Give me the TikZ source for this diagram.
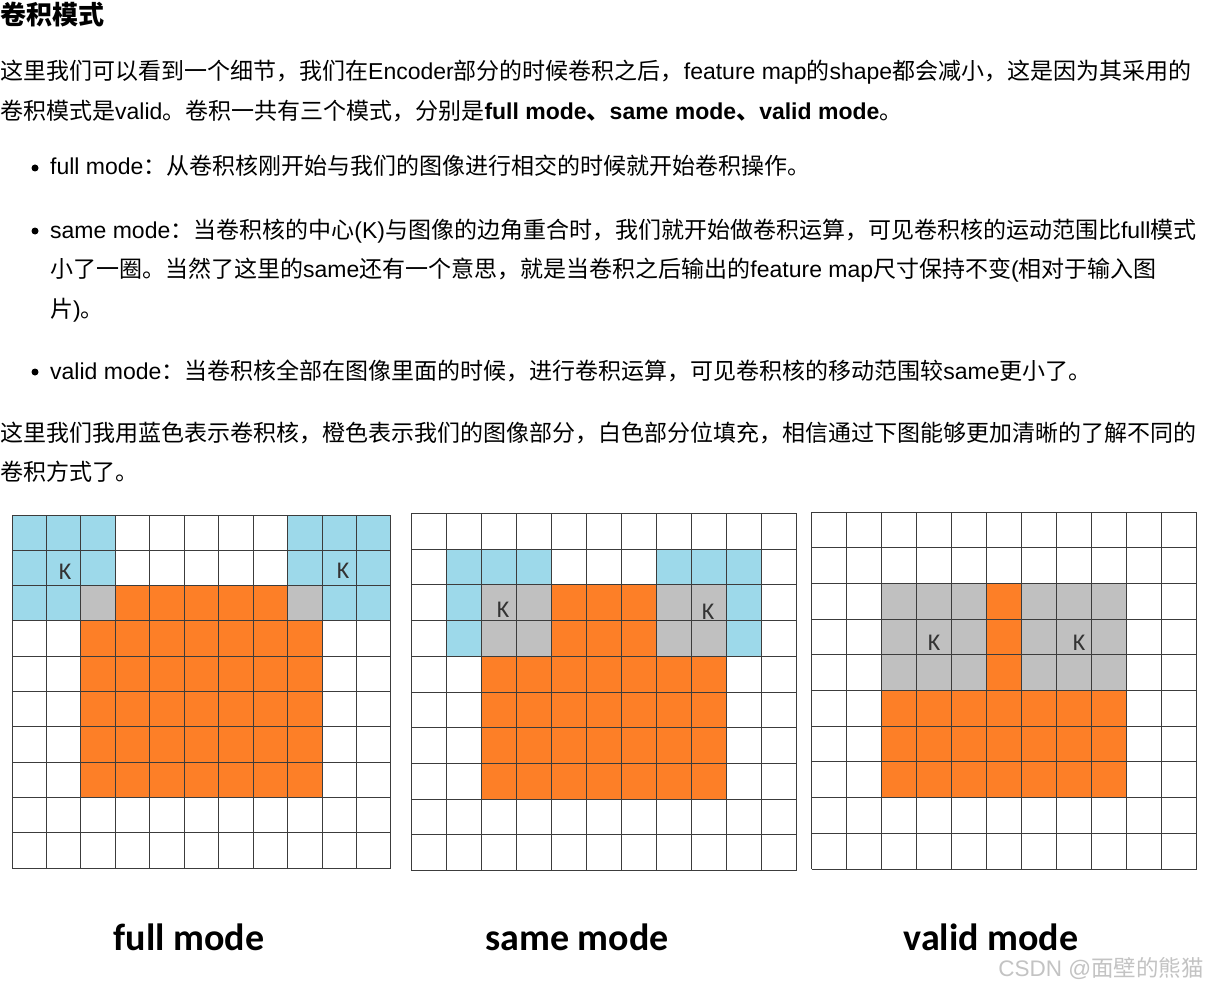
\documentclass[tikz,border=0pt]{standalone}
\usepackage{fontspec}
\setmainfont{Liberation Sans}
\newfontfamily\cjk{Noto Sans CJK SC}
\newfontfamily\calib{Carlito}
\newcommand\Z[1]{{\cjk #1}}
\definecolor{kblue}{RGB}{157,217,234}
\definecolor{korange}{RGB}{253,127,39}
\definecolor{kgray}{RGB}{192,192,192}
\definecolor{gline}{RGB}{60,60,60}
\definecolor{wmark}{RGB}{195,195,195}
\begin{document}
\begin{tikzpicture}[x=1pt,y=-1pt,
  txt/.style={anchor=base west, inner sep=0pt, font=\fontsize{23}{23}\selectfont},
  ttl/.style={anchor=base west, inner sep=0pt, font=\fontsize{26}{26}\selectfont\bfseries\cjk},
  dotb/.style={circle, fill=black, inner sep=0pt, minimum size=7pt},
  lab/.style={anchor=base, inner sep=0pt, font=\fontsize{38}{38}\selectfont\calib\bfseries},
  klab/.style={inner sep=0pt, text=black!80, font=\fontsize{24}{24}\selectfont\calib},
  wm/.style={anchor=base east, inner sep=0pt, text=wmark, font=\fontsize{22.5}{22.5}\selectfont},
  gl/.style={draw=gline, line width=1pt}]
\useasboundingbox[fill=white] (0,0) rectangle (1207,987);

% ---------- text ----------
\node[ttl] (title) at (0,25) {卷积模式};
\node[txt] (l1) at (0,80) {\Z{这里我们可以看到一个细节，我们在}Encoder\Z{部分的时候卷积之后，}feature map\Z{的}shape\Z{都会减小，这是因为其采用的}};
\node[txt] (l2) at (0,119.5) {\Z{卷积模式是}valid\Z{。卷积一共有三个模式，分别是}\textbf{full mode\Z{、}same mode\Z{、}valid mode}\Z{。}};
\node[dotb] (d1) at (35,168) {};
\node[txt] (b1) at (50,175) {full mode\Z{：从卷积核刚开始与我们的图像进行相交的时候就开始卷积操作。}};
\node[dotb] (d2) at (35,231) {};
\node[txt] (b2a) at (50,238) {same mode\Z{：当卷积核的中心}(K)\Z{与图像的边角重合时，我们就开始做卷积运算，可见卷积核的运动范围比}full\Z{模式}};
\node[txt] (b2b) at (50,277) {\Z{小了一圈。当然了这里的}same\Z{还有一个意思，就是当卷积之后输出的}feature map\Z{尺寸保持不变}(\Z{相对于输入图}};
\node[txt] (b2c) at (50,317) {\Z{片})\Z{。}};
\node[dotb] (d3) at (35,372) {};
\node[txt] (b3) at (50,379) {valid mode\Z{：当卷积核全部在图像里面的时候，进行卷积运算，可见卷积核的移动范围较}same\Z{更小了。}};
\node[txt] (p2a) at (0,441) {\Z{这里我们我用蓝色表示卷积核，橙色表示我们的图像部分，白色部分位填充，相信通过下图能够更加清晰的了解不同的}};
\node[txt] (p2b) at (0,480) {\Z{卷积方式了。}};

% ---------- grid 1: full mode ----------
\begin{scope}[shift={(12,515)}, xscale=34.45, yscale=35.3]
  \fill[kblue] (0,0) rectangle (3,3);
  \fill[kblue] (8,0) rectangle (11,3);
  \fill[korange] (3,2) rectangle (8,3);
  \fill[korange] (2,3) rectangle (9,8);
  \fill[kgray] (2,2) rectangle (3,3);
  \fill[kgray] (8,2) rectangle (9,3);
  \foreach \i in {0,...,11} \draw[gl] (\i,0) -- (\i,10);
  \foreach \j in {0,...,10} \draw[gl] (0,\j) -- (11,\j);
\end{scope}
\node[klab] (k1a) at (65,572) {K};
\node[klab] (k1b) at (343,571) {K};

% ---------- grid 2: same mode ----------
\begin{scope}[shift={(411,513.3)}, xscale=35.06, yscale=35.74]
  \fill[kblue] (1,1) rectangle (4,4);
  \fill[kblue] (7,1) rectangle (10,4);
  \fill[korange] (4,2) rectangle (7,4);
  \fill[korange] (2,4) rectangle (9,8);
  \fill[kgray] (2,2) rectangle (4,4);
  \fill[kgray] (7,2) rectangle (9,4);
  \foreach \i in {0,...,11} \draw[gl] (\i,0) -- (\i,10);
  \foreach \j in {0,...,10} \draw[gl] (0,\j) -- (11,\j);
\end{scope}
\node[klab] (k2a) at (503,610) {K};
\node[klab] (k2b) at (708,612) {K};

% ---------- grid 3: valid mode ----------
\begin{scope}[shift={(811.7,512.3)}, xscale=35.0, yscale=35.67]
  \fill[kgray] (2,2) rectangle (5,5);
  \fill[kgray] (6,2) rectangle (9,5);
  \fill[korange] (5,2) rectangle (6,5);
  \fill[korange] (2,5) rectangle (9,8);
  \foreach \i in {0,...,11} \draw[gl] (\i,0) -- (\i,10);
  \foreach \j in {0,...,10} \draw[gl] (0,\j) -- (11,\j);
\end{scope}
\node[klab] (k3a) at (934,643) {K};
\node[klab] (k3b) at (1079,643) {K};

% ---------- labels ----------
\node[lab] (lf) at (189,950) {full mode};
\node[lab] (ls) at (577,950) {same mode};
\node[lab] (lv) at (991,950) {valid mode};
\node[wm] (wmk) at (1204,976) {CSDN @\Z{面壁的熊猫}};
\end{tikzpicture}
\end{document}
